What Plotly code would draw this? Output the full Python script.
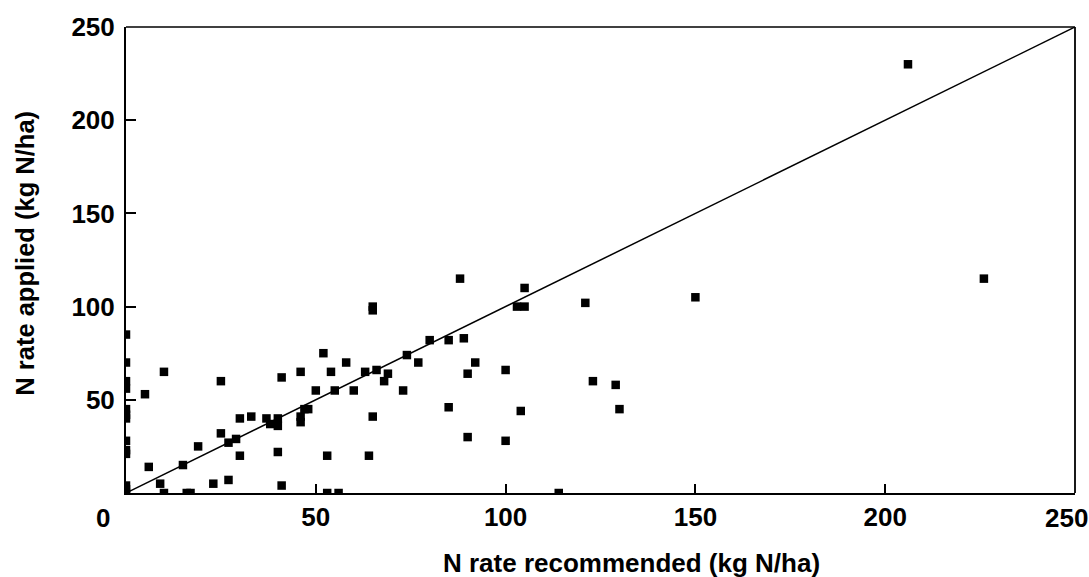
import plotly.graph_objects as go

# N rate recommended (x) vs N rate applied (y), kg N/ha
recommended = [
    0, 0, 0, 0, 0, 0, 0, 0, 0, 0, 0, 0, 0,
    5, 10, 6, 9, 10, 15, 16, 17, 19, 23, 25, 25, 27, 27, 29, 30, 30,
    33, 37, 38, 40, 40, 40, 41, 41, 46, 46, 46, 47, 48, 50, 52, 54, 55,
    53, 53, 56, 58, 60, 63, 66, 69, 68, 65, 65, 65, 64, 74, 77, 73, 80,
    85, 89, 88, 92, 90, 85, 90, 100, 100, 104, 103, 105, 105, 121, 123,
    129, 130, 150, 114, 206, 226,
]
applied = [
    85, 70, 60, 56, 45, 42, 40, 28, 23, 21, 4, 2, 0,
    53, 65, 14, 5, 0, 15, 0, 0, 25, 5, 60, 32, 27, 7, 29, 40, 20,
    41, 40, 37, 40, 36, 22, 62, 4, 65, 41, 38, 45, 45, 55, 75, 65, 55,
    20, 0, 0, 70, 55, 65, 66, 64, 60, 100, 98, 41, 20, 74, 70, 55, 82,
    82, 83, 115, 70, 64, 46, 30, 66, 28, 44, 100, 100, 110, 102, 60,
    58, 45, 105, 0, 230, 115,
]

# 1:1 reference line
line_x = [0, 250]
line_y = [0, 250]

x_tickvals = [50, 100, 150, 200, 250]
x_ticktext = ["50", "100", "150", "200", ""]
y_tickvals = [50, 100, 150, 200, 250]

FONT = "Arial, 'Liberation Sans', sans-serif"
TICKFONT = dict(family=FONT, size=26, color="black", weight="bold")

fig = go.Figure()
fig.add_trace(go.Scatter(
    x=line_x, y=line_y, mode="lines",
    line=dict(color="black", width=1.5),
    hoverinfo="skip", showlegend=False,
))
fig.add_trace(go.Scatter(
    x=recommended, y=applied, mode="markers",
    marker=dict(symbol="square", size=8.5, color="black", line=dict(width=0)),
    showlegend=False,
))

fig.update_layout(
    width=1089, height=577,
    margin=dict(l=126, r=14, t=25, b=84),
    plot_bgcolor="white", paper_bgcolor="white",
    font=dict(family=FONT, size=26, color="black", weight="bold"),
    xaxis=dict(
        range=[0, 250], tickvals=x_tickvals, ticktext=x_ticktext,
        ticks="inside", ticklen=9,
        tickwidth=1.5, tickcolor="black", showline=True, linecolor="black",
        linewidth=2, showgrid=False, zeroline=False, tickfont=TICKFONT,
    ),
    yaxis=dict(
        range=[0, 250], tickvals=y_tickvals, ticks="inside", ticklen=10,
        tickwidth=1.5, tickcolor="black", showline=True, linecolor="black",
        linewidth=2, showgrid=False, zeroline=False, ticklabelstandoff=4,
        tickfont=TICKFONT,
    ),
    shapes=[
        dict(type="line", xref="x domain", yref="y domain", x0=0, x1=1, y0=1, y1=1,
             line=dict(color="black", width=1.5)),
        dict(type="line", xref="x domain", yref="y domain", x0=1, x1=1, y0=0, y1=1,
             line=dict(color="black", width=1.8)),
    ],
    annotations=[
        dict(text="0", xref="x", yref="paper", x=0, y=-0.054, xshift=-23,
             showarrow=False, xanchor="center", yanchor="middle", font=TICKFONT),
        dict(text="250", xref="x", yref="paper", x=250, y=-0.054, xshift=-9,
             showarrow=False, xanchor="center", yanchor="middle", font=TICKFONT),
        dict(text="N rate recommended (kg N/ha)", xref="paper", yref="paper",
             x=0.533, y=-0.150, showarrow=False, xanchor="center", yanchor="middle",
             font=dict(family=FONT, size=26, color="black", weight="bold")),
        dict(text="N rate applied (kg N/ha)", xref="paper", yref="paper",
             x=-0.1064, y=0.5136, showarrow=False, xanchor="center", yanchor="middle",
             textangle=-90,
             font=dict(family=FONT, size=25.5, color="black", weight="bold")),
    ],
)

fig.write_html(
    "out.html",
    config={"displayModeBar": False},
    post_script="document.body.style.margin='0px';document.body.style.overflow='hidden';",
)
